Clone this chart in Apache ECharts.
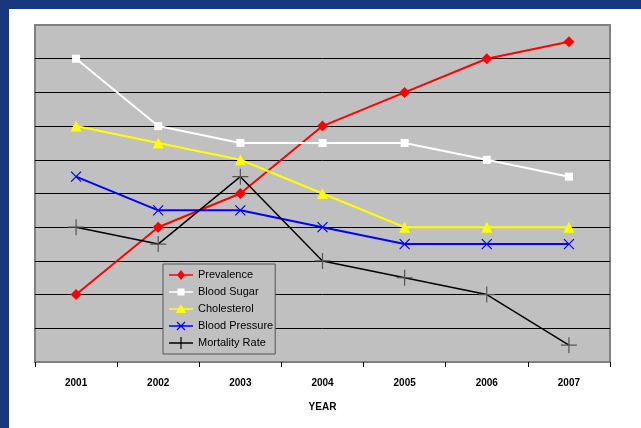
<!DOCTYPE html>
<html><head><meta charset="utf-8">
<script src="https://cdn.jsdelivr.net/npm/echarts@6/dist/echarts.min.js"></script>
<style>
html,body{margin:0;padding:0;background:#fff;}
#c{position:absolute;left:0;top:0;width:641px;height:428px;}
.b{position:absolute;background:#17377f;z-index:10;}
</style></head>
<body>
<div id="c"></div>
<div class="b" style="left:0;top:0;width:641px;height:9px;"></div>
<div class="b" style="left:0;top:0;width:9px;height:428px;"></div>
<script>
const years = ['2001','2002','2003','2004','2005','2006','2007'];
const prevalence = [2, 4, 5, 7, 8, 9, 9.5];
const bloodSugar = [9, 7, 6.5, 6.5, 6.5, 6, 5.5];
const cholesterol = [7, 6.5, 6, 5, 4, 4, 4];
const bloodPressure = [5.5, 4.5, 4.5, 4, 3.5, 3.5, 3.5];
const mortality = [4, 3.5, 5.5, 3, 2.5, 2, 0.5];
const seriesNames = ['Prevalence','Blood Sugar','Cholesterol','Blood Pressure','Mortality Rate'];
const xTitle = 'YEAR';

// legend icons: line + marker in a 24x14 box (anchors fix the bounding box)
const anchor = 'M0,0L0,0ZM24,14L24,14Z';
const lineBar = 'M0,6.2L24,6.2L24,7.8L0,7.8Z';
const icons = [
  'path://' + anchor + lineBar + 'M12,2L16,7L12,12L8,7Z',
  'path://' + anchor + lineBar + 'M8.5,3.5L15.5,3.5L15.5,10.5L8.5,10.5Z',
  'path://' + anchor + lineBar + 'M12,2L17,11L7,11Z',
  'path://' + anchor + lineBar + 'M7.6,3.4L8.4,2.6L16.4,10.6L15.6,11.4ZM15.6,2.6L16.4,3.4L8.4,11.4L7.6,10.6Z',
  'path://' + anchor + 'M0,6.3L24,6.3L24,7.7L0,7.7ZM11.4,1L12.6,1L12.6,13L11.4,13Z'
];
const iconColors = ['#ff0000', '#ffffff', '#ffff00', '#0000ff', '#000000'];

const chart = echarts.init(document.getElementById('c'));
const font = '"Liberation Sans", Arial, sans-serif';
const gridColors = [];
for (let i = 0; i <= 10; i++) gridColors.push(i === 10 ? '#808080' : '#000');
chart.setOption({
  animation: false,
  backgroundColor: '#fff',
  grid: {left: 35, top: 25, right: 31, bottom: 66, show: true,
    backgroundColor: '#c0c0c0', borderColor: '#808080', borderWidth: 2},
  legend: {
    orient: 'vertical', left: 163, top: 264,
    backgroundColor: '#c0c0c0', borderColor: '#555', borderWidth: 1,
    padding: [4, 2, 4, 6], itemGap: 3, itemWidth: 24, itemHeight: 14,
    symbolKeepAspect: false,
    textStyle: {fontFamily: font, fontSize: 11, color: '#000'},
    data: seriesNames.map((n, i) => ({
      name: n, icon: icons[i],
      itemStyle: {color: iconColors[i], borderWidth: 0}
    }))
  },
  xAxis: {
    type: 'category', data: years, boundaryGap: true,
    name: xTitle, nameLocation: 'middle', nameGap: 40,
    nameTextStyle: {fontFamily: font, fontSize: 10, fontWeight: 'bold', color: '#000'},
    axisLine: {lineStyle: {color: '#808080', width: 2}},
    axisTick: {show: true, length: 5, lineStyle: {color: '#000'}},
    axisLabel: {fontFamily: font, fontSize: 10, fontWeight: 'bold', color: '#000', margin: 16}
  },
  yAxis: {
    type: 'value', min: 0, max: 10, interval: 1,
    axisLabel: {show: false}, axisTick: {show: false}, axisLine: {show: false},
    splitLine: {lineStyle: {color: gridColors, width: 1}}
  },
  series: [
    {name: seriesNames[0], type: 'line', data: prevalence, symbol: 'diamond', symbolSize: 11,
      itemStyle: {color: '#ff0000'}, lineStyle: {color: '#ff0000', width: 2}},
    {name: seriesNames[1], type: 'line', data: bloodSugar, symbol: 'rect', symbolSize: 8,
      itemStyle: {color: '#ffffff'}, lineStyle: {color: '#ffffff', width: 2}},
    {name: seriesNames[2], type: 'line', data: cholesterol, symbol: 'triangle', symbolSize: 11,
      itemStyle: {color: '#ffff00'}, lineStyle: {color: '#ffff00', width: 2}},
    {name: seriesNames[3], type: 'line', data: bloodPressure, symbol: 'path://M0,0L10,10M10,0L0,10', symbolSize: 10,
      itemStyle: {color: 'none', borderColor: '#0000ff', borderWidth: 1.2}, lineStyle: {color: '#0000ff', width: 2}},
    {name: seriesNames[4], type: 'line', data: mortality, symbol: 'path://M8,0L8,16M0,8L16,8', symbolSize: 16,
      itemStyle: {color: 'none', borderColor: '#555', borderWidth: 1.2}, lineStyle: {color: '#000', width: 1.5}}
  ]
});
</script>
</body></html>
